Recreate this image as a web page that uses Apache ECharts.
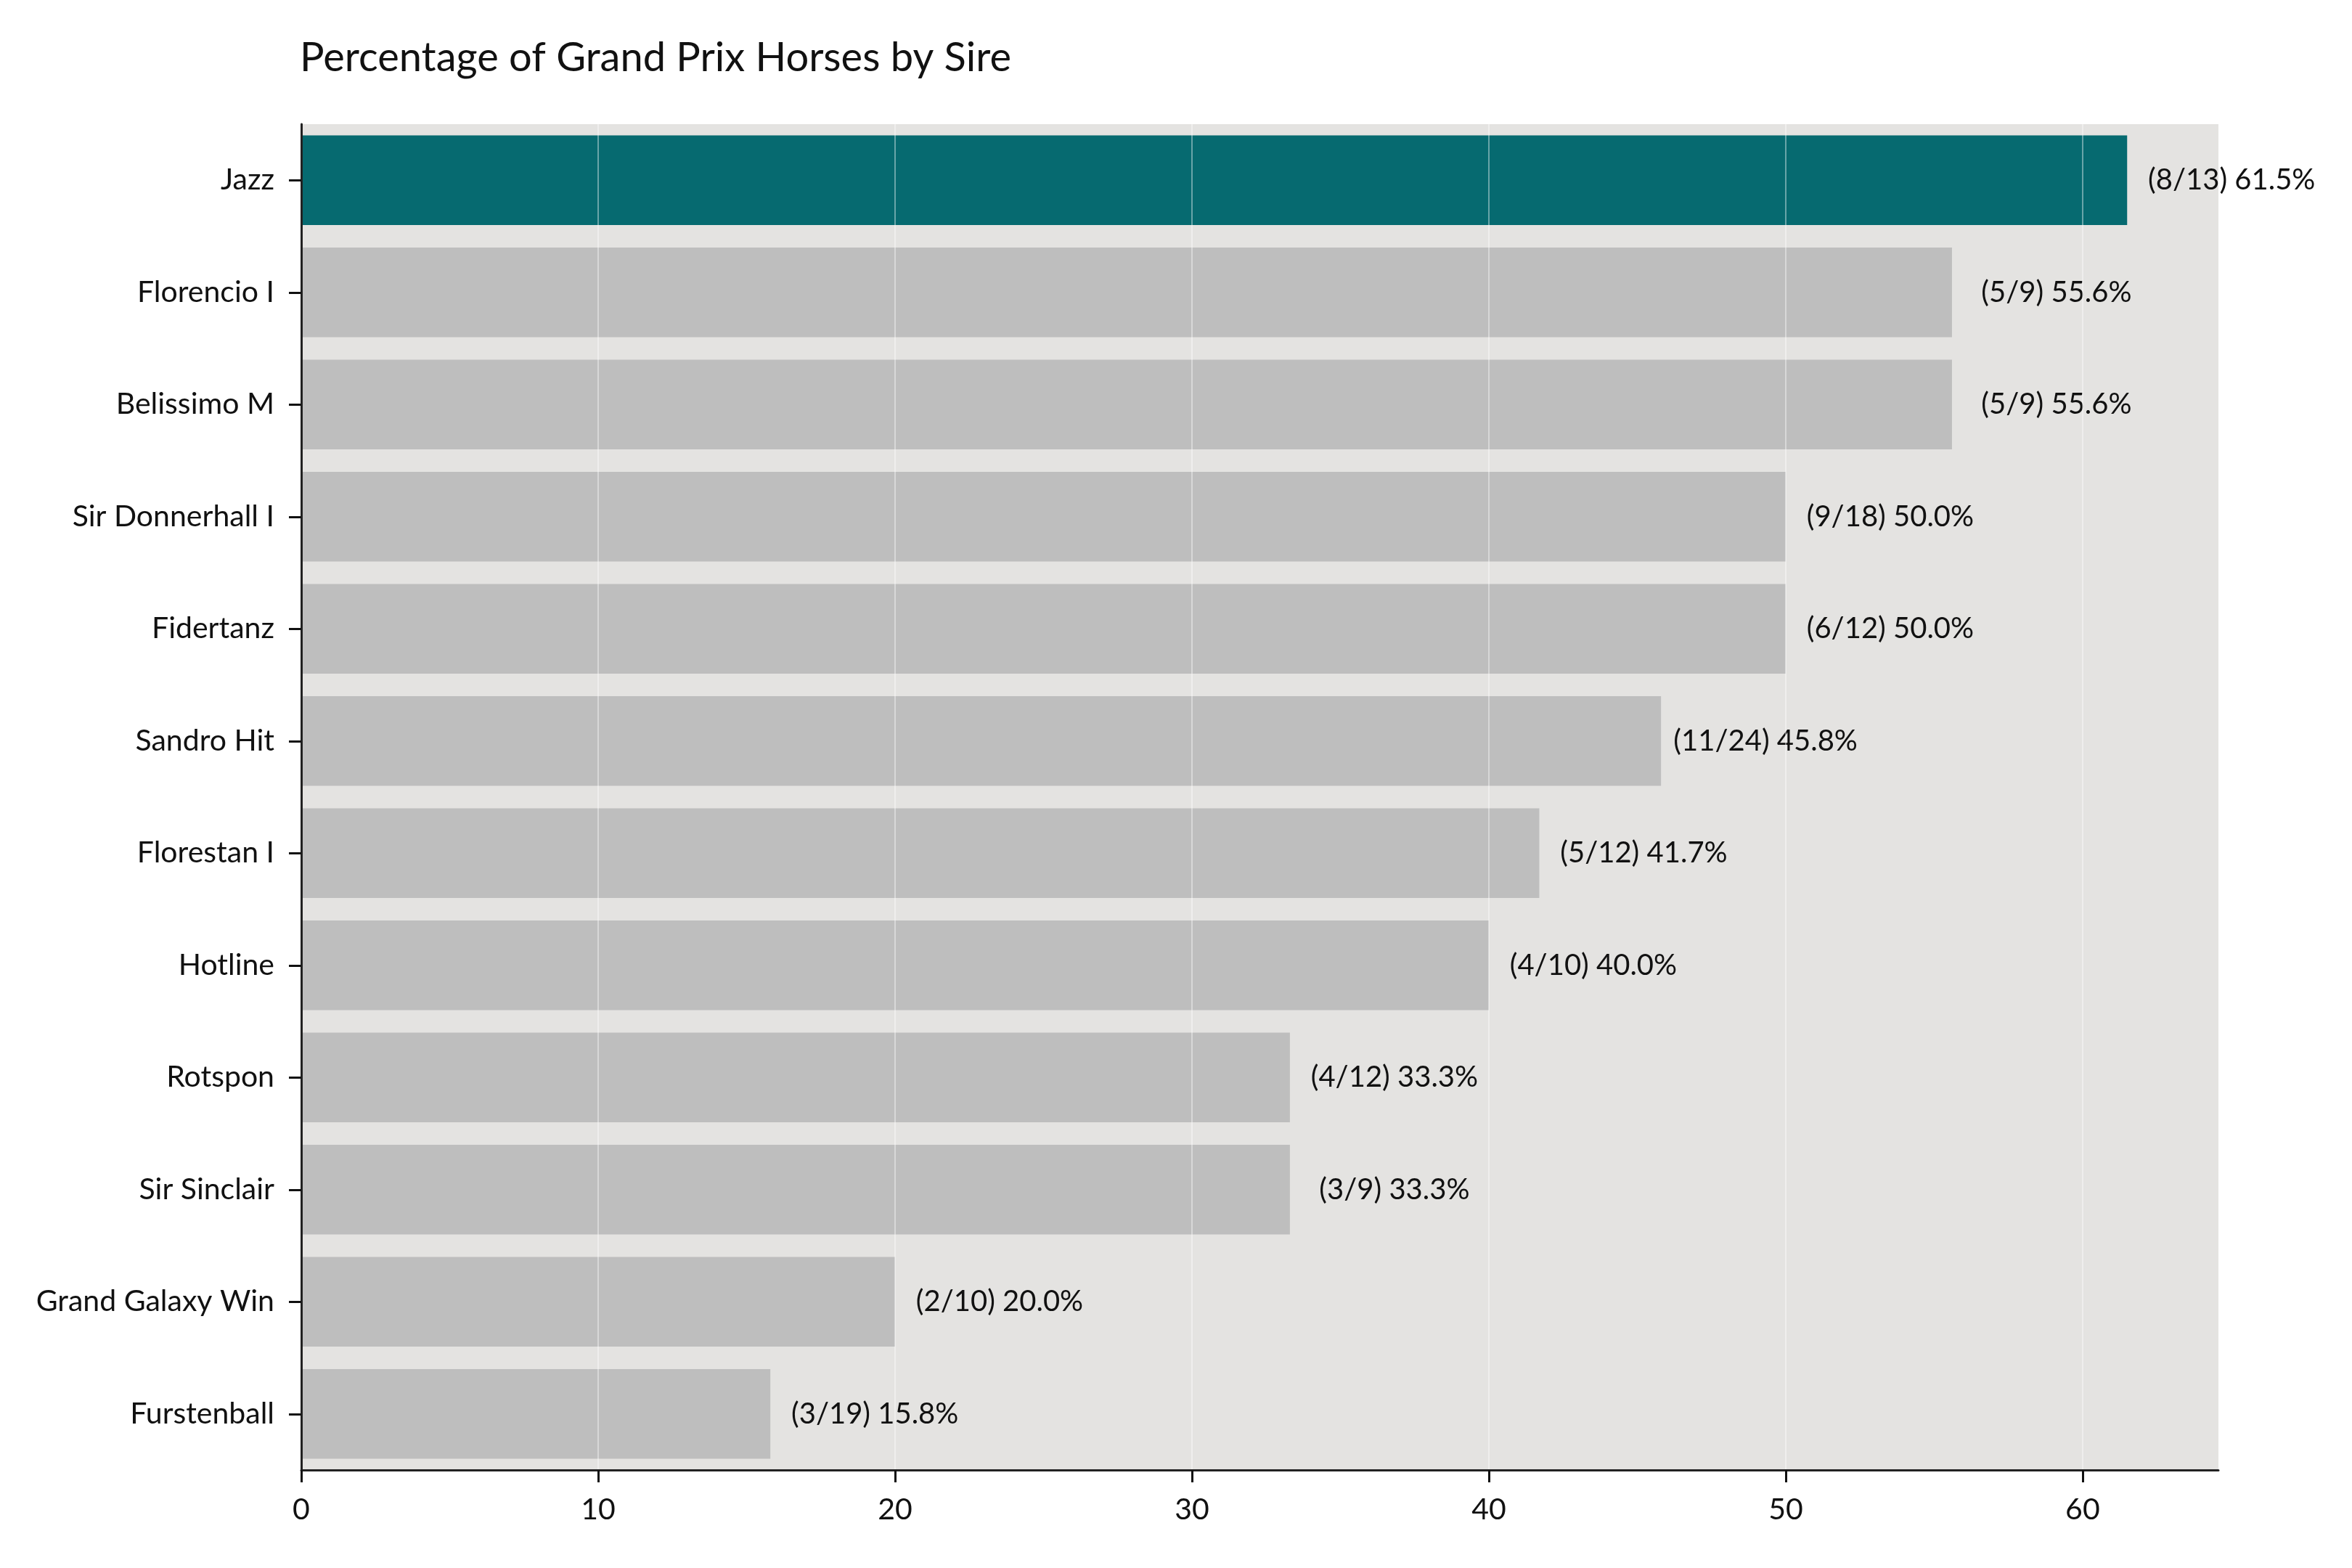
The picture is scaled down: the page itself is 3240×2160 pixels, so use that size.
<!DOCTYPE html>
<html>
<head>
<meta charset="utf-8">
<script src="https://cdn.jsdelivr.net/npm/echarts@6/dist/echarts.min.js"></script>
<style>
html,body{margin:0;padding:0;background:#fff;}
#chart{width:3240px;height:2160px;}
</style>
</head>
<body>
<div id="chart"></div>
<script>
const sires = ["Jazz","Florencio I","Belissimo M","Sir Donnerhall I","Fidertanz","Sandro Hit","Florestan I","Hotline","Rotspon","Sir Sinclair","Grand Galaxy Win","Furstenball"];
const gpHorses = [8,5,5,9,6,11,5,4,4,3,2,3];
const totalHorses = [13,9,9,18,12,24,12,10,12,9,10,19];
const percentages = [61.5,55.6,55.6,50.0,50.0,45.8,41.7,40.0,33.3,33.3,20.0,15.8];
const xTicks = [0,10,20,30,40,50,60];
const highlight = "Jazz";

const FONT = "Lato";
const chart = echarts.init(document.getElementById('chart'), null, {renderer:'canvas', devicePixelRatio:1});

const barData = sires.map((s,i)=>({
  value: percentages[i],
  itemStyle: {color: s===highlight ? '#066A70' : '#BEBEBE'},
  label: {formatter: '(' + gpHorses[i] + '/' + totalHorses[i] + ') ' + percentages[i].toFixed(1) + '%'}
}));

const xMax = Math.max(...percentages) * 1.05;

chart.setOption({
  animation:false,
  backgroundColor:'#ffffff',
  title:{
    text:'Percentage of Grand Prix Horses by Sire',
    left:408, top:47,
    textStyle:{fontFamily:FONT, fontSize:56, fontWeight:'normal', color:'#111'}
  },
  grid:{
    left:415, right:3240-3056, top:171, bottom:2160-2025,
    show:true, backgroundColor:'#E4E3E1', borderWidth:0
  },
  xAxis:{
    type:'value', min:0, max:xMax, interval:10, z:3,
    axisLine:{show:true, lineStyle:{color:'#222', width:3}},
    axisTick:{show:true, length:17, customValues:xTicks, lineStyle:{color:'#111', width:3}},
    axisLabel:{
      fontFamily:FONT, fontSize:41, color:'#111', margin:34,
      customValues:xTicks,
      formatter:(v)=> String(v)
    },
    splitLine:{show:true, lineStyle:{color:'rgba(255,255,255,0.4)', width:2}}
  },
  yAxis:{
    type:'category', data:sires, inverse:true, z:3,
    axisLine:{show:true, lineStyle:{color:'#222', width:3}},
    axisTick:{show:true, length:17, alignWithLabel:true, lineStyle:{color:'#111', width:3}},
    axisLabel:{fontFamily:FONT, fontSize:41, color:'#111', margin:37},
    splitLine:{show:false}
  },
  series:[{
    type:'bar',
    data:barData,
    barCategoryGap:'20%',
    z:2,
    label:{
      show:true, position:'right', distance:144, align:'center',
      fontFamily:FONT, fontSize:40, color:'#111'
    }
  }]
});
</script>
</body>
</html>
